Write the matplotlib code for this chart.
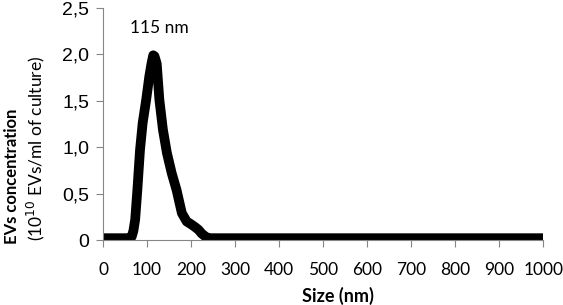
import matplotlib
matplotlib.use("Agg")
import matplotlib.pyplot as plt

# size distribution (nm, 1e10 EVs/ml)
size_nm = [0, 20, 40, 60, 65, 69, 73, 78, 84, 90, 98, 105, 110, 114, 117, 122,
           128, 136, 145, 156, 167, 179, 190, 200, 209, 217, 224, 232, 239, 300,
           400, 500, 600, 700, 800, 900, 1000]
conc = [0.02, 0.02, 0.02, 0.02, 0.035, 0.1, 0.22, 0.54, 0.97, 1.26, 1.51, 1.76,
        1.9, 1.99, 1.98, 1.9, 1.51, 1.19, 0.94, 0.72, 0.54, 0.29, 0.20, 0.17,
        0.14, 0.11, 0.07, 0.04, 0.02, 0.02, 0.02, 0.02, 0.02, 0.02, 0.02, 0.02,
        0.02]

x_ticks = list(range(0, 1001, 100))
y_ticks = [0, 0.5, 1.0, 1.5, 2.0, 2.5]
y_labels = ["0", "0,5", "1,0", "1,5", "2,0", "2,5"]

fig = plt.figure(figsize=(5.63, 3.05), dpi=100)
ax = fig.add_axes([0.183, 0.213, 0.782, 0.761])

ax.plot(size_nm, conc, color="black", lw=7, solid_capstyle="round",
        solid_joinstyle="round")

ax.set_xlim(0, 1000)
ax.set_ylim(0, 2.5)
ax.set_xticks(x_ticks)
ax.set_xticklabels([str(v) for v in x_ticks], family="Lato", fontsize=12.5)
ax.set_yticks(y_ticks)
ax.set_yticklabels(y_labels, family="Liberation Sans", fontsize=14)

for s in ["top", "right"]:
    ax.spines[s].set_visible(False)
for s in ["left", "bottom"]:
    ax.spines[s].set_color("#868686")
    ax.spines[s].set_linewidth(0.8)
ax.tick_params(axis="both", direction="out", color="#868686", length=5, width=0.8)
ax.tick_params(axis="x", pad=11)
ax.tick_params(axis="y", pad=5)

ax.text(127, 2.28, "115 nm", family="Lato", fontsize=12.5, ha="center", va="center")

fig.text(0.600, 0.03, "Size (nm)", family="Lato", fontweight="bold",
         fontsize=13, ha="center", va="center")
fig.text(0.021, 0.423, "EVs concentration", family="Lato", fontweight="bold",
         fontsize=12, rotation=90, ha="center", va="center")
fig.text(0.064, 0.515, r"(10$^{10}$ EVs/ml of culture)", family="Lato",
         fontsize=12.5, rotation=90, ha="center", va="center")

fig.savefig("out.png", dpi=100)
